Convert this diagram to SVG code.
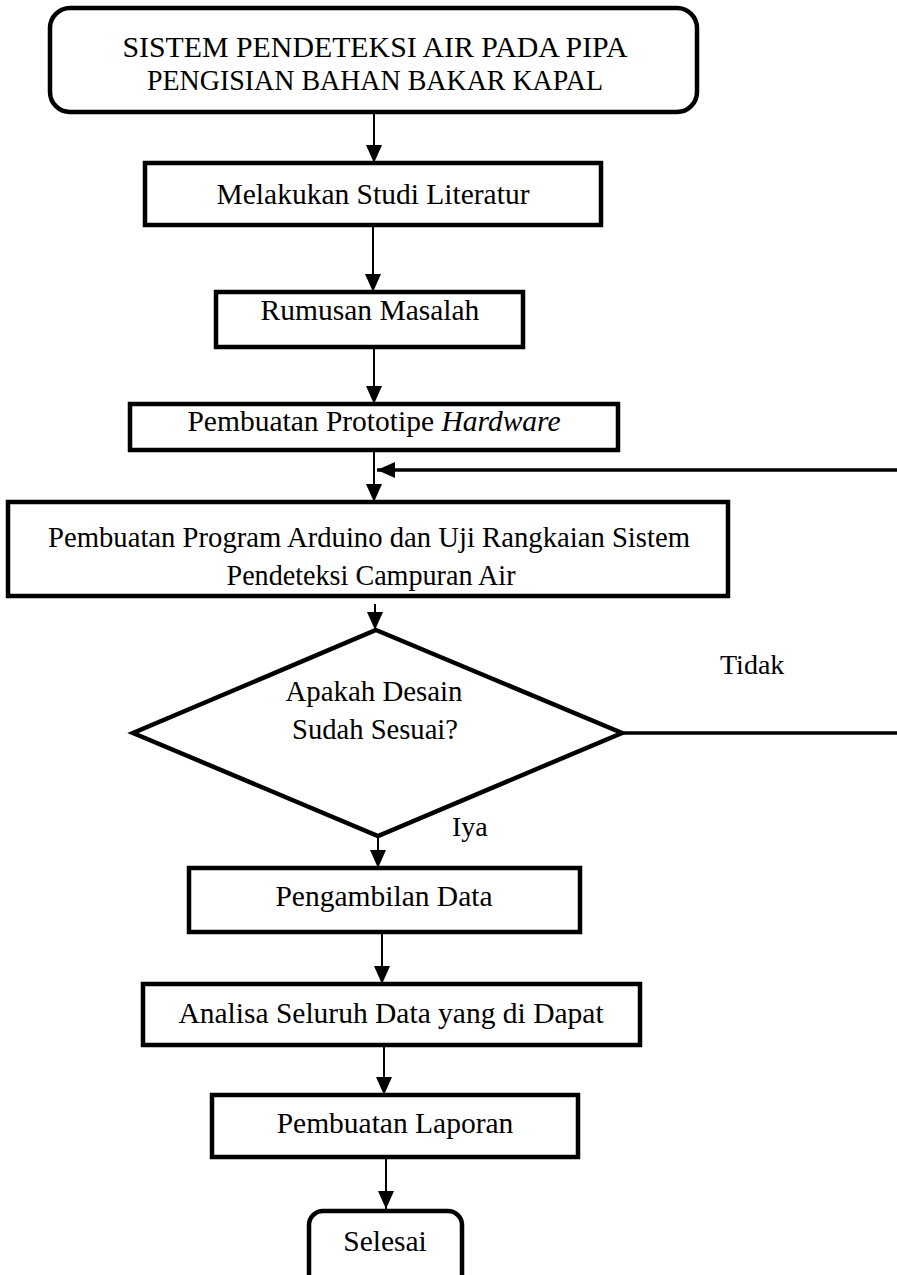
<svg xmlns="http://www.w3.org/2000/svg" width="897" height="1275" viewBox="0 0 897 1275">
  <style>
    .box { fill: #ffffff; stroke: #000000; stroke-width: 4.5; }
    .lbl { font-family: "Liberation Serif", "Times New Roman", serif; font-size: 29.5px; fill: #000000; text-anchor: middle; }
    .free { font-family: "Liberation Serif", "Times New Roman", serif; font-size: 28px; fill: #000000; }
    .wire { fill: none; stroke: #000000; stroke-width: 2; }
    .wire-thick { fill: none; stroke: #000000; stroke-width: 3.5; }
  </style>
  <defs>
    <marker id="arrow" viewBox="0 0 18 16" refX="18" refY="8" markerWidth="18" markerHeight="16" markerUnits="userSpaceOnUse" orient="auto">
      <path d="M0,0 L18,8 L0,16 Z" fill="#000000"/>
    </marker>
  </defs>
  <rect width="897" height="1275" fill="#ffffff"/>

  <g id="connectors">
    <line class="wire" x1="374" y1="112" x2="374" y2="163" marker-end="url(#arrow)"/>
    <line class="wire" x1="373" y1="225" x2="373" y2="292" marker-end="url(#arrow)"/>
    <line class="wire" x1="374" y1="347" x2="374" y2="404" marker-end="url(#arrow)"/>
    <line class="wire" x1="374" y1="450" x2="374" y2="502" marker-end="url(#arrow)"/>
    <line class="wire-thick" x1="897" y1="470" x2="377" y2="470" marker-end="url(#arrow)"/>
    <line class="wire" x1="375" y1="604" x2="375" y2="630" marker-end="url(#arrow)"/>
    <line class="wire-thick" x1="622" y1="733" x2="897" y2="733"/>
    <line class="wire" x1="378" y1="836" x2="378" y2="868" marker-end="url(#arrow)"/>
    <line class="wire" x1="382" y1="932" x2="382" y2="984" marker-end="url(#arrow)"/>
    <line class="wire" x1="384" y1="1045" x2="384" y2="1095" marker-end="url(#arrow)"/>
    <line class="wire" x1="386" y1="1157" x2="386" y2="1209" marker-end="url(#arrow)"/>
    <text class="free" x="720" y="674">Tidak</text>
    <text class="free" x="452" y="836">Iya</text>
  </g>

  <g id="start">
    <rect class="box" x="50" y="8" width="647" height="104" rx="20" ry="20"/>
    <text class="lbl" x="375" y="57" textLength="505" lengthAdjust="spacingAndGlyphs">SISTEM PENDETEKSI AIR PADA PIPA</text>
    <text class="lbl" x="375" y="90" textLength="456" lengthAdjust="spacingAndGlyphs">PENGISIAN BAHAN BAKAR KAPAL</text>
  </g>

  <g id="studi-literatur">
    <rect class="box" x="145" y="163" width="456" height="62"/>
    <text class="lbl" x="373" y="204">Melakukan Studi Literatur</text>
  </g>

  <g id="rumusan-masalah">
    <rect class="box" x="216" y="292" width="307" height="55"/>
    <text class="lbl" x="370" y="320">Rumusan Masalah</text>
  </g>

  <g id="prototipe">
    <rect class="box" x="130" y="404" width="488" height="46"/>
    <text class="lbl" x="374" y="431">Pembuatan Prototipe <tspan font-style="italic">Hardware</tspan></text>
  </g>

  <g id="program-arduino">
    <rect class="box" x="8" y="502" width="720" height="94"/>
    <text class="lbl" x="369" y="547" textLength="642" lengthAdjust="spacingAndGlyphs">Pembuatan Program Arduino dan Uji Rangkaian Sistem</text>
    <text class="lbl" x="371" y="585" textLength="289" lengthAdjust="spacingAndGlyphs">Pendeteksi Campuran Air</text>
  </g>

  <g id="keputusan">
    <polygon class="box" points="376,630 622,733 378,836 133,733"/>
    <text class="lbl" x="374" y="701" textLength="177" lengthAdjust="spacingAndGlyphs">Apakah Desain</text>
    <text class="lbl" x="375" y="739" textLength="166" lengthAdjust="spacingAndGlyphs">Sudah Sesuai?</text>
  </g>

  <g id="pengambilan-data">
    <rect class="box" x="189" y="868" width="391" height="64"/>
    <text class="lbl" x="384" y="906">Pengambilan Data</text>
  </g>

  <g id="analisa-data">
    <rect class="box" x="143" y="984" width="497" height="61"/>
    <text class="lbl" x="391" y="1023">Analisa Seluruh Data yang di Dapat</text>
  </g>

  <g id="laporan">
    <rect class="box" x="212" y="1095" width="366" height="62"/>
    <text class="lbl" x="395" y="1133">Pembuatan Laporan</text>
  </g>

  <g id="selesai">
    <rect class="box" x="309" y="1211" width="153" height="80" rx="14" ry="14"/>
    <text class="lbl" x="385" y="1251">Selesai</text>
  </g>
</svg>
